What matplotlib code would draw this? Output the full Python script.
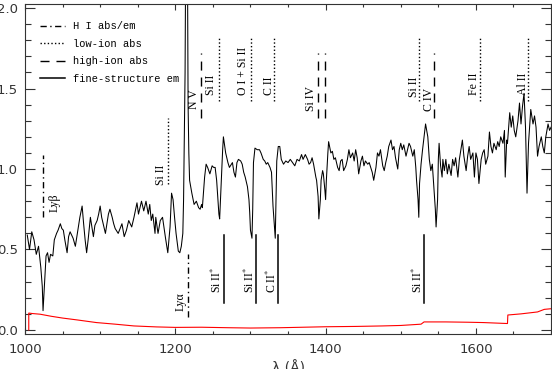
import numpy as np
import matplotlib
matplotlib.use("Agg")
from matplotlib import pyplot as plt
from matplotlib.lines import Line2D
from matplotlib.ticker import MultipleLocator, FormatStrFormatter

# normalised spectrum (rest-frame wavelength, Angstrom)
wave = [1003, 1006, 1009, 1012, 1015, 1018, 1021, 1023, 1024, 1026, 1028, 1030,
        1032, 1034, 1037, 1039, 1042, 1044, 1047, 1049, 1051, 1053, 1056, 1058, 1060, 1062,
        1064, 1067, 1069, 1071, 1073, 1076, 1078, 1080, 1082, 1084, 1087, 1089, 1091, 1093, 1096, 1098,
        1100, 1102, 1104, 1107, 1109, 1111, 1113, 1116, 1118, 1120, 1124, 1129, 1132, 1135, 1138,
        1142, 1145, 1149, 1151, 1155, 1158, 1161, 1164, 1166, 1168, 1170, 1173, 1174, 1177, 1180, 1183,
        1187, 1190, 1193, 1195, 1197, 1199, 1201, 1204, 1206, 1208, 1210, 1211, 1212, 1213, 1214, 1216, 1217, 1218, 1219,
        1222, 1225, 1228, 1231, 1233, 1235, 1236, 1239, 1241, 1243, 1246, 1249, 1251, 1253, 1255, 1258, 1259,
        1261, 1263, 1264, 1267, 1270, 1272, 1276, 1278, 1280, 1282, 1284, 1287, 1289, 1291, 1293, 1296, 1298,
        1299, 1300, 1302, 1303, 1304, 1306, 1309, 1312, 1314, 1317, 1319, 1321, 1323, 1326, 1328, 1329, 1330, 1332, 1333, 1334,
        1335, 1337, 1339, 1341, 1344, 1347, 1350, 1353, 1356, 1359, 1362, 1365, 1368, 1370, 1373, 1376, 1378,
        1380, 1382, 1384, 1387, 1388, 1390, 1391, 1393, 1394, 1396, 1397, 1399, 1400, 1401, 1403, 1404,
        1407, 1409, 1411, 1413, 1416, 1418, 1420, 1422, 1424, 1427, 1429, 1431, 1433, 1436, 1438, 1440, 1442, 1444,
        1447, 1449, 1451, 1453, 1456, 1458, 1460, 1462, 1464, 1467, 1469, 1471, 1473, 1476, 1478, 1480, 1482, 1484,
        1487, 1489, 1491, 1493, 1496, 1498, 1500, 1502, 1504, 1507, 1509, 1511, 1513, 1516, 1518, 1520,
        1521, 1523, 1524, 1525, 1527, 1529, 1531, 1533, 1536, 1538, 1540, 1542, 1544, 1546, 1547, 1549, 1550, 1551, 1553,
        1555, 1556, 1558, 1560, 1562, 1564, 1567, 1569, 1571, 1573, 1576, 1578, 1580, 1582, 1584, 1587, 1589, 1591, 1593, 1596, 1598,
        1600, 1602, 1604, 1607, 1609, 1611, 1613, 1616, 1618, 1620, 1622, 1624, 1627, 1629, 1631, 1633, 1636, 1638, 1639, 1641, 1642,
        1645, 1647, 1649, 1651, 1653, 1656, 1658, 1660, 1662, 1664, 1666, 1668, 1670, 1672, 1673, 1676, 1678, 1680, 1682, 1684,
        1687, 1689, 1691, 1693, 1696, 1698, 1700]
flux = [0.59, 0.50, 0.61, 0.56, 0.47, 0.52, 0.39, 0.27, 0.12, 0.29, 0.46, 0.48,
        0.42, 0.47, 0.46, 0.56, 0.60, 0.62, 0.66, 0.63, 0.62, 0.56, 0.48, 0.58, 0.61, 0.59,
        0.57, 0.52, 0.58, 0.64, 0.70, 0.77, 0.66, 0.56, 0.48, 0.56, 0.70, 0.64, 0.58, 0.65, 0.68, 0.72,
        0.77, 0.70, 0.66, 0.60, 0.66, 0.72, 0.75, 0.70, 0.66, 0.63, 0.60, 0.66, 0.58, 0.62, 0.68,
        0.64, 0.70, 0.79, 0.72, 0.80, 0.74, 0.80, 0.72, 0.78, 0.68, 0.72, 0.60, 0.70, 0.60, 0.68, 0.70,
        0.57, 0.48, 0.64, 0.85, 0.81, 0.70, 0.60, 0.49, 0.48, 0.52, 0.60, 0.81, 1.22, 1.60, 2.50, 2.50, 1.40, 1.10, 0.93,
        0.85, 0.78, 0.80, 0.76, 0.75, 0.78, 0.76, 0.95, 1.03, 1.01, 0.97, 1.02, 1.01, 1.01, 0.93, 0.72, 0.69,
        0.91, 1.12, 1.20, 1.10, 1.04, 1.01, 1.04, 0.98, 0.95, 1.04, 1.06, 1.05, 1.03, 0.98, 0.95, 0.89, 0.81,
        0.73, 0.62, 0.57, 0.75, 1.04, 1.13, 1.12, 1.12, 1.10, 1.06, 1.05, 1.03, 1.04, 1.01, 0.98, 0.87, 0.77, 0.64, 0.57, 0.81,
        1.05, 1.14, 1.14, 1.06, 1.03, 1.05, 1.04, 1.06, 1.04, 1.02, 1.06, 1.05, 1.09, 1.06, 1.09, 1.06, 1.03,
        1.04, 1.07, 1.03, 0.95, 0.93, 0.83, 0.69, 0.81, 0.93, 0.99, 0.97, 0.87, 0.81, 0.93, 1.10, 1.17,
        1.10, 1.11, 1.06, 1.07, 1.01, 0.99, 1.05, 1.06, 0.99, 1.02, 1.06, 1.12, 1.07, 1.10, 1.05, 1.12, 1.07, 0.97,
        1.05, 1.08, 1.02, 1.05, 1.03, 1.04, 1.01, 0.98, 0.93, 1.01, 1.10, 1.08, 1.12, 1.02, 0.99, 1.04, 1.08, 1.14,
        1.18, 1.12, 1.14, 1.07, 1.00, 1.12, 1.16, 1.12, 1.15, 1.08, 1.12, 1.16, 1.14, 1.08, 1.12, 1.01,
        0.93, 0.81, 0.70, 0.91, 1.03, 1.12, 1.20, 1.28, 1.20, 1.06, 0.99, 1.03, 0.89, 0.75, 0.64, 0.81, 1.06, 1.16, 1.02,
        0.95, 1.06, 0.99, 1.06, 0.97, 1.03, 0.96, 1.06, 1.02, 1.07, 0.95, 1.06, 1.12, 1.18, 1.08, 0.99, 1.08, 1.14, 1.06, 1.10, 0.95,
        1.10, 1.06, 0.91, 1.06, 1.10, 1.12, 1.03, 1.08, 1.23, 1.14, 1.10, 1.16, 1.12, 1.17, 1.14, 1.20, 1.16, 1.24, 0.95, 1.18, 1.16,
        1.35, 1.26, 1.33, 1.24, 1.20, 1.30, 1.41, 1.28, 1.39, 1.47, 1.26, 0.85, 1.16, 1.30, 1.37, 1.28, 1.33, 1.26, 1.08, 1.14,
        1.20, 1.14, 1.10, 1.20, 1.28, 1.24, 1.26]

# error spectrum
err_wave = [1005, 1005, 1010, 1020, 1035, 1050, 1070, 1095, 1120, 1145, 1175, 1200, 1235, 1270, 1300,
            1340, 1400, 1440, 1475, 1500, 1527, 1531, 1560, 1590, 1610, 1642, 1642.5, 1660, 1682, 1691, 1700]
err_flux = [0.0, 0.105, 0.102, 0.098, 0.085, 0.074, 0.062, 0.046, 0.036, 0.025, 0.019, 0.016, 0.017, 0.014, 0.012,
            0.014, 0.020, 0.022, 0.025, 0.028, 0.036, 0.050, 0.050, 0.048, 0.046, 0.040, 0.093, 0.100, 0.112, 0.128, 0.132]

# line identifications
hi_wave = [1024.4, 1217.0]
low_wave = [1190.3, 1257.5, 1300.5, 1331.0, 1524.0, 1605.3, 1669.0]
high_wave = [1234.7, 1389.3, 1398.7, 1544.0]
fs_wave = [1264.4, 1307.6, 1336.4, 1531.1]

legend_labels = ["H I abs/em", "low-ion abs", "high-ion abs", "fine-structure em"]

plt.rcParams['mathtext.fontset'] = 'stix'

DASHDOT = (0, (4.5, 2.5, 1, 2.5))
DOTTED = (0, (1, 1.6))
DASHED = (0, (6.5, 5))

fig = plt.figure(figsize=(5.52, 3.69), dpi=100)
ax = fig.add_axes([0.0453, 0.094, 0.953, 0.895])

ax.plot(wave, flux, color='black', lw=0.75)
ax.plot(err_wave, err_flux, color='red', lw=0.8)

# vertical markers
hi_span = [(0.70, 1.09), (0.08, 0.47)]
for w, (y0, y1) in zip(hi_wave, hi_span):
    ax.plot([w, w], [y0, y1], color='k', lw=1, ls=DASHDOT)
for i, w in enumerate(low_wave):
    y0, y1 = (0.91, 1.32) if i == 0 else (1.42, 1.82)
    ax.plot([w, w], [y0, y1], color='k', lw=1, ls=DOTTED)
for w in high_wave:
    ax.plot([w, w], [1.32, 1.72], color='k', lw=1, ls=DASHED)
for w in fs_wave:
    ax.plot([w, w], [0.17, 0.59], color='k', lw=1.1, ls='-')

# labels next to the markers
annots = [("Lyβ", 1039, 0.73), ("Si II", 1181, 0.90), ("Lyα", 1207, 0.12),
          ("N V", 1225, 1.37), ("Si II", 1248, 1.46), ("O I + Si II", 1290, 1.46),
          ("C II", 1325, 1.46), ("Si IV", 1380, 1.36), ("Si II", 1517, 1.45),
          ("C IV", 1538, 1.36), ("Fe II", 1598, 1.46), ("Al II", 1662, 1.46),
          (r"Si II$^{*}$", 1255, 0.23), (r"Si II$^{*}$", 1299, 0.23),
          (r"C II$^{*}$", 1329, 0.23), (r"Si II$^{*}$", 1523, 0.23)]
for txt, x, y in annots:
    ax.text(x, y, txt, rotation=90, ha='center', va='bottom',
            family='Liberation Serif', fontsize=8.5)

handles = [Line2D([], [], color='k', lw=1, ls=DASHDOT),
           Line2D([], [], color='k', lw=1, ls=DOTTED),
           Line2D([], [], color='k', lw=1, ls=DASHED),
           Line2D([], [], color='k', lw=1.1, ls='-')]
ax.legend(handles, legend_labels, loc='upper left', bbox_to_anchor=(0.028, 0.948),
          frameon=False, prop={'family': 'Liberation Mono', 'size': 7.5},
          handlelength=2.4, handletextpad=0.8, labelspacing=0.72,
          borderpad=0, borderaxespad=0)

ax.set_xlim(1000, 1700)
ax.set_ylim(-0.027, 2.025)
ax.xaxis.set_major_locator(MultipleLocator(200))
ax.xaxis.set_minor_locator(MultipleLocator(50))
ax.yaxis.set_major_locator(MultipleLocator(0.5))
ax.yaxis.set_minor_locator(MultipleLocator(0.1))
ax.yaxis.set_major_formatter(FormatStrFormatter('%.1f'))
ax.tick_params(which='both', direction='in', top=True, right=True,
               labelsize=9.5, labelcolor='#333333', color='#333333', width=0.8)
ax.tick_params(axis='x', which='major', length=4.3, pad=6)
ax.tick_params(axis='x', which='minor', length=2.5)
ax.tick_params(axis='y', which='major', length=7.5, pad=5)
ax.tick_params(axis='y', which='minor', length=4.5)
for sp in ax.spines.values():
    sp.set_color('#333333')
    sp.set_linewidth(0.8)
ax.set_xlabel('λ (Å)', fontsize=10, color='#333333', labelpad=4)

fig.savefig('out.png', dpi=100)
